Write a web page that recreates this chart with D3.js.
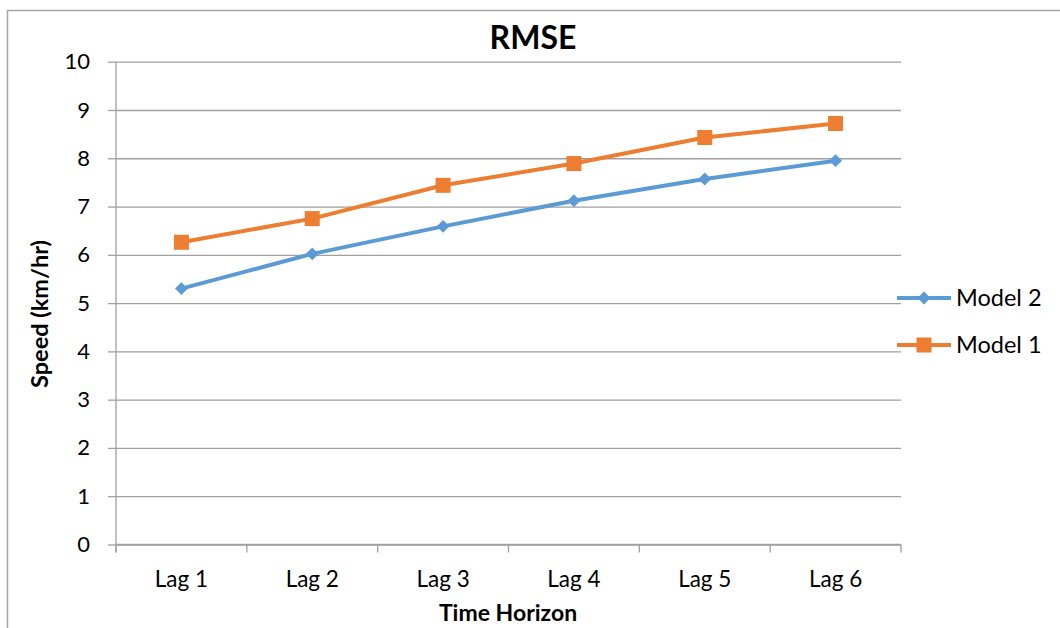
<!DOCTYPE html>
<html>
<head>
<meta charset="utf-8">
<script src="https://cdn.jsdelivr.net/npm/d3@7"></script>
<style>
  html, body { margin: 0; padding: 0; background: #fff; }
  svg { display: block; font-family: Carlito, Calibri, Lato, sans-serif; }
</style>
</head>
<body>
<svg id="chart" width="1060" height="628"></svg>
<script>
// Data
const categories = ["Lag 1", "Lag 2", "Lag 3", "Lag 4", "Lag 5", "Lag 6"];
const model2 = [5.30, 6.02, 6.59, 7.12, 7.57, 7.95];
const model1 = [6.26, 6.75, 7.44, 7.89, 8.43, 8.72];
const yTicks = [0, 1, 2, 3, 4, 5, 6, 7, 8, 9, 10];
const seriesNames = ["Model 2", "Model 1"];

const series = [
  { name: seriesNames[0], values: model2, color: "#5B9BD5", marker: "diamond" },
  { name: seriesNames[1], values: model1, color: "#ED7D31", marker: "square" }
];

const svg = d3.select("#chart");
const plot = { left: 116, right: 901, top: 61.7, bottom: 544.5 };
const labelFont = "Lato, sans-serif";

// Outer chart frame
svg.append("rect")
  .attr("x", 7.5).attr("y", 10.5)
  .attr("width", 1100).attr("height", 700)
  .attr("fill", "none").attr("stroke", "#a6a6a6").attr("stroke-width", 1.5);

const x = d3.scalePoint().domain(categories).range([plot.left, plot.right]).padding(0.5);
const xBand = d3.scaleBand().domain(categories).range([plot.left, plot.right]);
const y = d3.scaleLinear().domain([0, 10]).range([plot.bottom, plot.top]);

const gridColor = "#a0a0a0";

// Horizontal gridlines with outside tick marks
const yAxis = d3.axisLeft(y).tickValues(yTicks).tickSize(-(plot.right - plot.left)).tickPadding(26);
const gy = svg.append("g").attr("transform", `translate(${plot.left},0)`).call(yAxis);
gy.select(".domain").remove();
gy.selectAll(".tick line").attr("stroke", gridColor).attr("stroke-width", 1.3);
gy.selectAll(".tick").append("line")
  .attr("x1", -8).attr("x2", 0)
  .attr("stroke", gridColor).attr("stroke-width", 1.3);
gy.selectAll(".tick text")
  .attr("font-family", labelFont)
  .attr("font-size", 22).attr("fill", "#000");

// Vertical axis line
svg.append("line")
  .attr("x1", plot.left).attr("x2", plot.left)
  .attr("y1", plot.top).attr("y2", plot.bottom + 8)
  .attr("stroke", gridColor).attr("stroke-width", 1.3);

// Category axis with boundary ticks
const boundaries = categories.map(c => xBand(c)).concat([plot.right]);
svg.append("line")
  .attr("x1", plot.left).attr("x2", plot.right)
  .attr("y1", plot.bottom).attr("y2", plot.bottom)
  .attr("stroke", gridColor).attr("stroke-width", 1.3);
svg.append("g").selectAll("line").data(boundaries).join("line")
  .attr("x1", d => d).attr("x2", d => d)
  .attr("y1", plot.bottom).attr("y2", plot.bottom + 8)
  .attr("stroke", gridColor).attr("stroke-width", 1.3);
svg.append("g").selectAll("text").data(categories).join("text")
  .attr("x", d => x(d)).attr("y", plot.bottom + 42)
  .attr("text-anchor", "middle")
  .attr("font-family", labelFont).attr("font-size", 22.5)
  .text(d => d);

// Lines and markers
const line = d3.line().x((d, i) => x(categories[i])).y(d => y(d));
const diamondPath = d3.symbol().type(d3.symbolSquare).size(82)();
const sq = 15;

series.forEach(s => {
  svg.append("path")
    .datum(s.values)
    .attr("d", line)
    .attr("fill", "none")
    .attr("stroke", s.color)
    .attr("stroke-width", 4)
    .attr("stroke-linejoin", "round");
  const g = svg.append("g");
  if (s.marker === "square") {
    g.selectAll("rect").data(s.values).join("rect")
      .attr("x", (d, i) => x(categories[i]) - sq / 2)
      .attr("y", d => y(d) - sq / 2)
      .attr("width", sq).attr("height", sq)
      .attr("fill", s.color);
  } else {
    g.selectAll("path").data(s.values).join("path")
      .attr("transform", (d, i) => `translate(${x(categories[i])},${y(d)}) rotate(45)`)
      .attr("d", diamondPath)
      .attr("fill", s.color);
  }
});

// Legend
const legendY = [298, 345];
series.forEach((s, i) => {
  const g = svg.append("g").attr("transform", `translate(0,${legendY[i]})`);
  g.append("line").attr("x1", 897).attr("x2", 951).attr("y1", 0).attr("y2", 0)
    .attr("stroke", s.color).attr("stroke-width", 4);
  if (s.marker === "square") {
    g.append("rect").attr("x", 924 - sq / 2).attr("y", -sq / 2).attr("width", sq).attr("height", sq).attr("fill", s.color);
  } else {
    g.append("path").attr("transform", "translate(924,0) rotate(45)")
      .attr("d", diamondPath).attr("fill", s.color);
  }
  g.append("text").attr("x", 956).attr("y", 8)
    .attr("font-family", labelFont).attr("font-size", 23.5)
    .text(s.name);
});

// Titles
svg.append("text").attr("x", 533).attr("y", 49)
  .attr("text-anchor", "middle")
  .attr("font-family", labelFont).attr("font-weight", 700).attr("font-size", 32)
  .text("RMSE");

svg.append("text").attr("x", 508).attr("y", 621)
  .attr("text-anchor", "middle")
  .attr("font-family", labelFont).attr("font-weight", 700).attr("font-size", 23)
  .text("Time Horizon");

svg.append("text")
  .attr("transform", "translate(48,314) rotate(-90)")
  .attr("text-anchor", "middle")
  .attr("font-family", labelFont).attr("font-weight", 700).attr("font-size", 23.5)
  .text("Speed (km/hr)");
</script>
</body>
</html>
